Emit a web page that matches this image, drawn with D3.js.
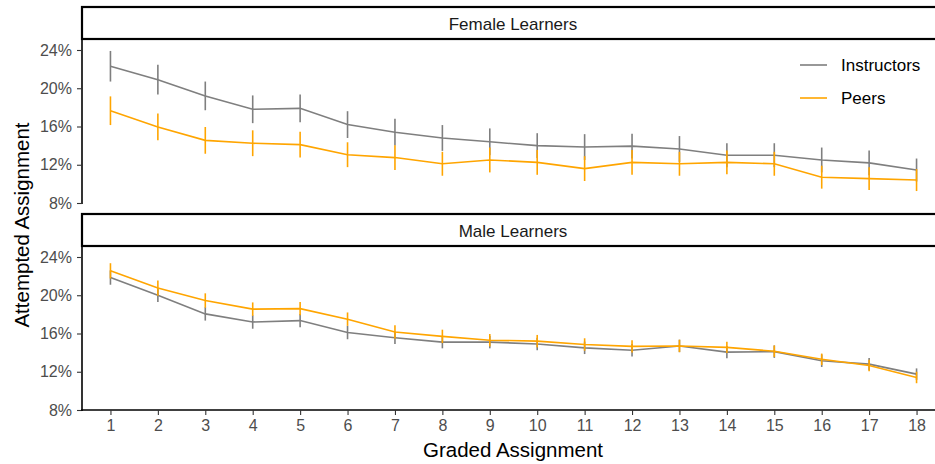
<!DOCTYPE html>
<html>
<head>
<meta charset="utf-8">
<script src="https://cdn.jsdelivr.net/npm/d3@7"></script>
<style>
  body { margin: 0; background: #fff; }
  svg { display: block; font-family: "Liberation Sans", Arial, sans-serif; }
  .tick text { fill: #4d4d4d; font-size: 16px; }
  .tick line { stroke: #333; stroke-width: 1.1; }
  .axis path.domain { stroke: #000; stroke-width: 1.6; }
</style>
</head>
<body>
<div id="chart"></div>
<script>
// graded assignments 1..18
const assignments = d3.range(1, 19);
const panels = ['Female Learners', 'Male Learners'];
const seriesNames = ['Instructors', 'Peers'];
const yTicks = [8, 12, 16, 20, 24];

// attempted share (%), with error half-width
const femaleInstructors = [22.3, 20.9, 19.2, 17.8, 17.9, 16.2, 15.4, 14.8, 14.4, 14.0, 13.85, 13.95, 13.65, 13.0, 13.0, 12.5, 12.2, 11.45];
const femaleInstructorsErr = [1.6, 1.55, 1.5, 1.45, 1.45, 1.4, 1.4, 1.35, 1.4, 1.3, 1.35, 1.3, 1.35, 1.25, 1.25, 1.3, 1.3, 1.2];
const femalePeers = [17.65, 15.95, 14.55, 14.25, 14.1, 13.05, 12.75, 12.1, 12.5, 12.25, 11.6, 12.25, 12.1, 12.25, 12.1, 10.7, 10.55, 10.4];
const femalePeersErr = [1.5, 1.4, 1.4, 1.35, 1.35, 1.3, 1.3, 1.25, 1.3, 1.3, 1.3, 1.3, 1.25, 1.25, 1.25, 1.2, 1.2, 1.15];
const maleInstructors = [21.85, 20.0, 18.05, 17.2, 17.35, 16.1, 15.55, 15.1, 15.1, 14.9, 14.5, 14.25, 14.7, 14.05, 14.1, 13.15, 12.8, 11.75];
const maleInstructorsErr = [0.75, 0.7, 0.7, 0.7, 0.7, 0.7, 0.65, 0.65, 0.65, 0.65, 0.65, 0.65, 0.65, 0.65, 0.65, 0.65, 0.65, 0.6];
const malePeers = [22.55, 20.75, 19.45, 18.55, 18.6, 17.5, 16.15, 15.7, 15.3, 15.2, 14.85, 14.65, 14.7, 14.55, 14.15, 13.3, 12.65, 11.4];
const malePeersErr = [0.8, 0.8, 0.75, 0.7, 0.7, 0.7, 0.7, 0.7, 0.65, 0.65, 0.65, 0.65, 0.65, 0.6, 0.6, 0.6, 0.6, 0.6];

const panelData = [
  [{ mean: femaleInstructors, err: femaleInstructorsErr }, { mean: femalePeers, err: femalePeersErr }],
  [{ mean: maleInstructors, err: maleInstructorsErr }, { mean: malePeers, err: malePeersErr }]
];
const colors = ['#7f7f7f', '#ffa500'];

const width = 935, height = 464;
const left = 82, right = 945;
const stripH = 32;
const panelTops = [7, 214];
const panelH = 164;

const svg = d3.select('#chart').append('svg')
  .attr('width', width)
  .attr('height', height);

// discrete-style x scale: 0.6 step padding on both sides
const x = d3.scaleLinear().domain([0.4, 18.6]).range([left, right]);

panels.forEach((name, p) => {
  const top = panelTops[p];
  const plotTop = top + stripH;
  const plotBottom = plotTop + panelH;
  const y = d3.scaleLinear().domain([8, 25.15]).range([plotBottom, plotTop]);

  const g = svg.append('g');

  // strip header
  g.append('rect')
    .attr('x', left).attr('y', top)
    .attr('width', right - left + 10).attr('height', stripH)
    .attr('fill', '#fff').attr('stroke', '#000').attr('stroke-width', 2.2);
  g.append('text')
    .attr('x', 513).attr('y', top + 23)
    .attr('text-anchor', 'middle')
    .attr('fill', '#1a1a1a').style('font-size', '17px')
    .text(name);

  // y axis
  g.append('g').attr('class', 'axis')
    .attr('transform', `translate(${left},0)`)
    .call(d3.axisLeft(y).tickValues(yTicks).tickSize(5).tickPadding(5).tickFormat(d => d + '%'))
    .call(a => a.select('.domain').attr('d', `M0,${plotTop}V${plotBottom + 1}`));

  // x axis only on the bottom panel
  if (p === panels.length - 1) {
    g.append('g').attr('class', 'axis')
      .attr('transform', `translate(0,${plotBottom})`)
      .call(d3.axisBottom(x).tickValues(assignments).tickSize(5).tickPadding(5).tickFormat(d3.format('d')))
      .call(a => a.select('.domain').attr('d', `M${left - 1},0H${right + 5}`));
  }

  const line = d3.line().x((d, i) => x(assignments[i])).y(d => y(d));

  panelData[p].forEach((s, k) => {
    const sg = g.append('g');
    sg.append('path')
      .datum(s.mean)
      .attr('d', line)
      .attr('fill', 'none')
      .attr('stroke', colors[k])
      .attr('stroke-width', 1.6);
    sg.selectAll('line.err')
      .data(s.mean)
      .join('line')
      .attr('class', 'err')
      .attr('x1', (d, i) => x(assignments[i]))
      .attr('x2', (d, i) => x(assignments[i]))
      .attr('y1', (d, i) => y(d + s.err[i]))
      .attr('y2', (d, i) => y(d - s.err[i]))
      .attr('stroke', colors[k])
      .attr('stroke-width', 1.6);
  });
});

// legend inside the top panel
const legend = svg.append('g').attr('transform', 'translate(800,65)');
seriesNames.forEach((n, k) => {
  const row = legend.append('g').attr('transform', `translate(0,${k * 33})`);
  row.append('line').attr('x1', 0).attr('x2', 27).attr('y1', 0).attr('y2', 0)
    .attr('stroke', colors[k]).attr('stroke-width', 1.6);
  row.append('text').attr('x', 41).attr('y', 6)
    .attr('fill', '#000').style('font-size', '17px').text(n);
});

// axis titles
svg.append('text')
  .attr('transform', 'translate(29,225) rotate(-90)')
  .attr('text-anchor', 'middle')
  .attr('fill', '#000').style('font-size', '20.5px')
  .text('Attempted Assignment');
svg.append('text')
  .attr('x', 513).attr('y', 457)
  .attr('text-anchor', 'middle')
  .attr('fill', '#000').style('font-size', '20.5px')
  .text('Graded Assignment');
</script>
</body>
</html>
